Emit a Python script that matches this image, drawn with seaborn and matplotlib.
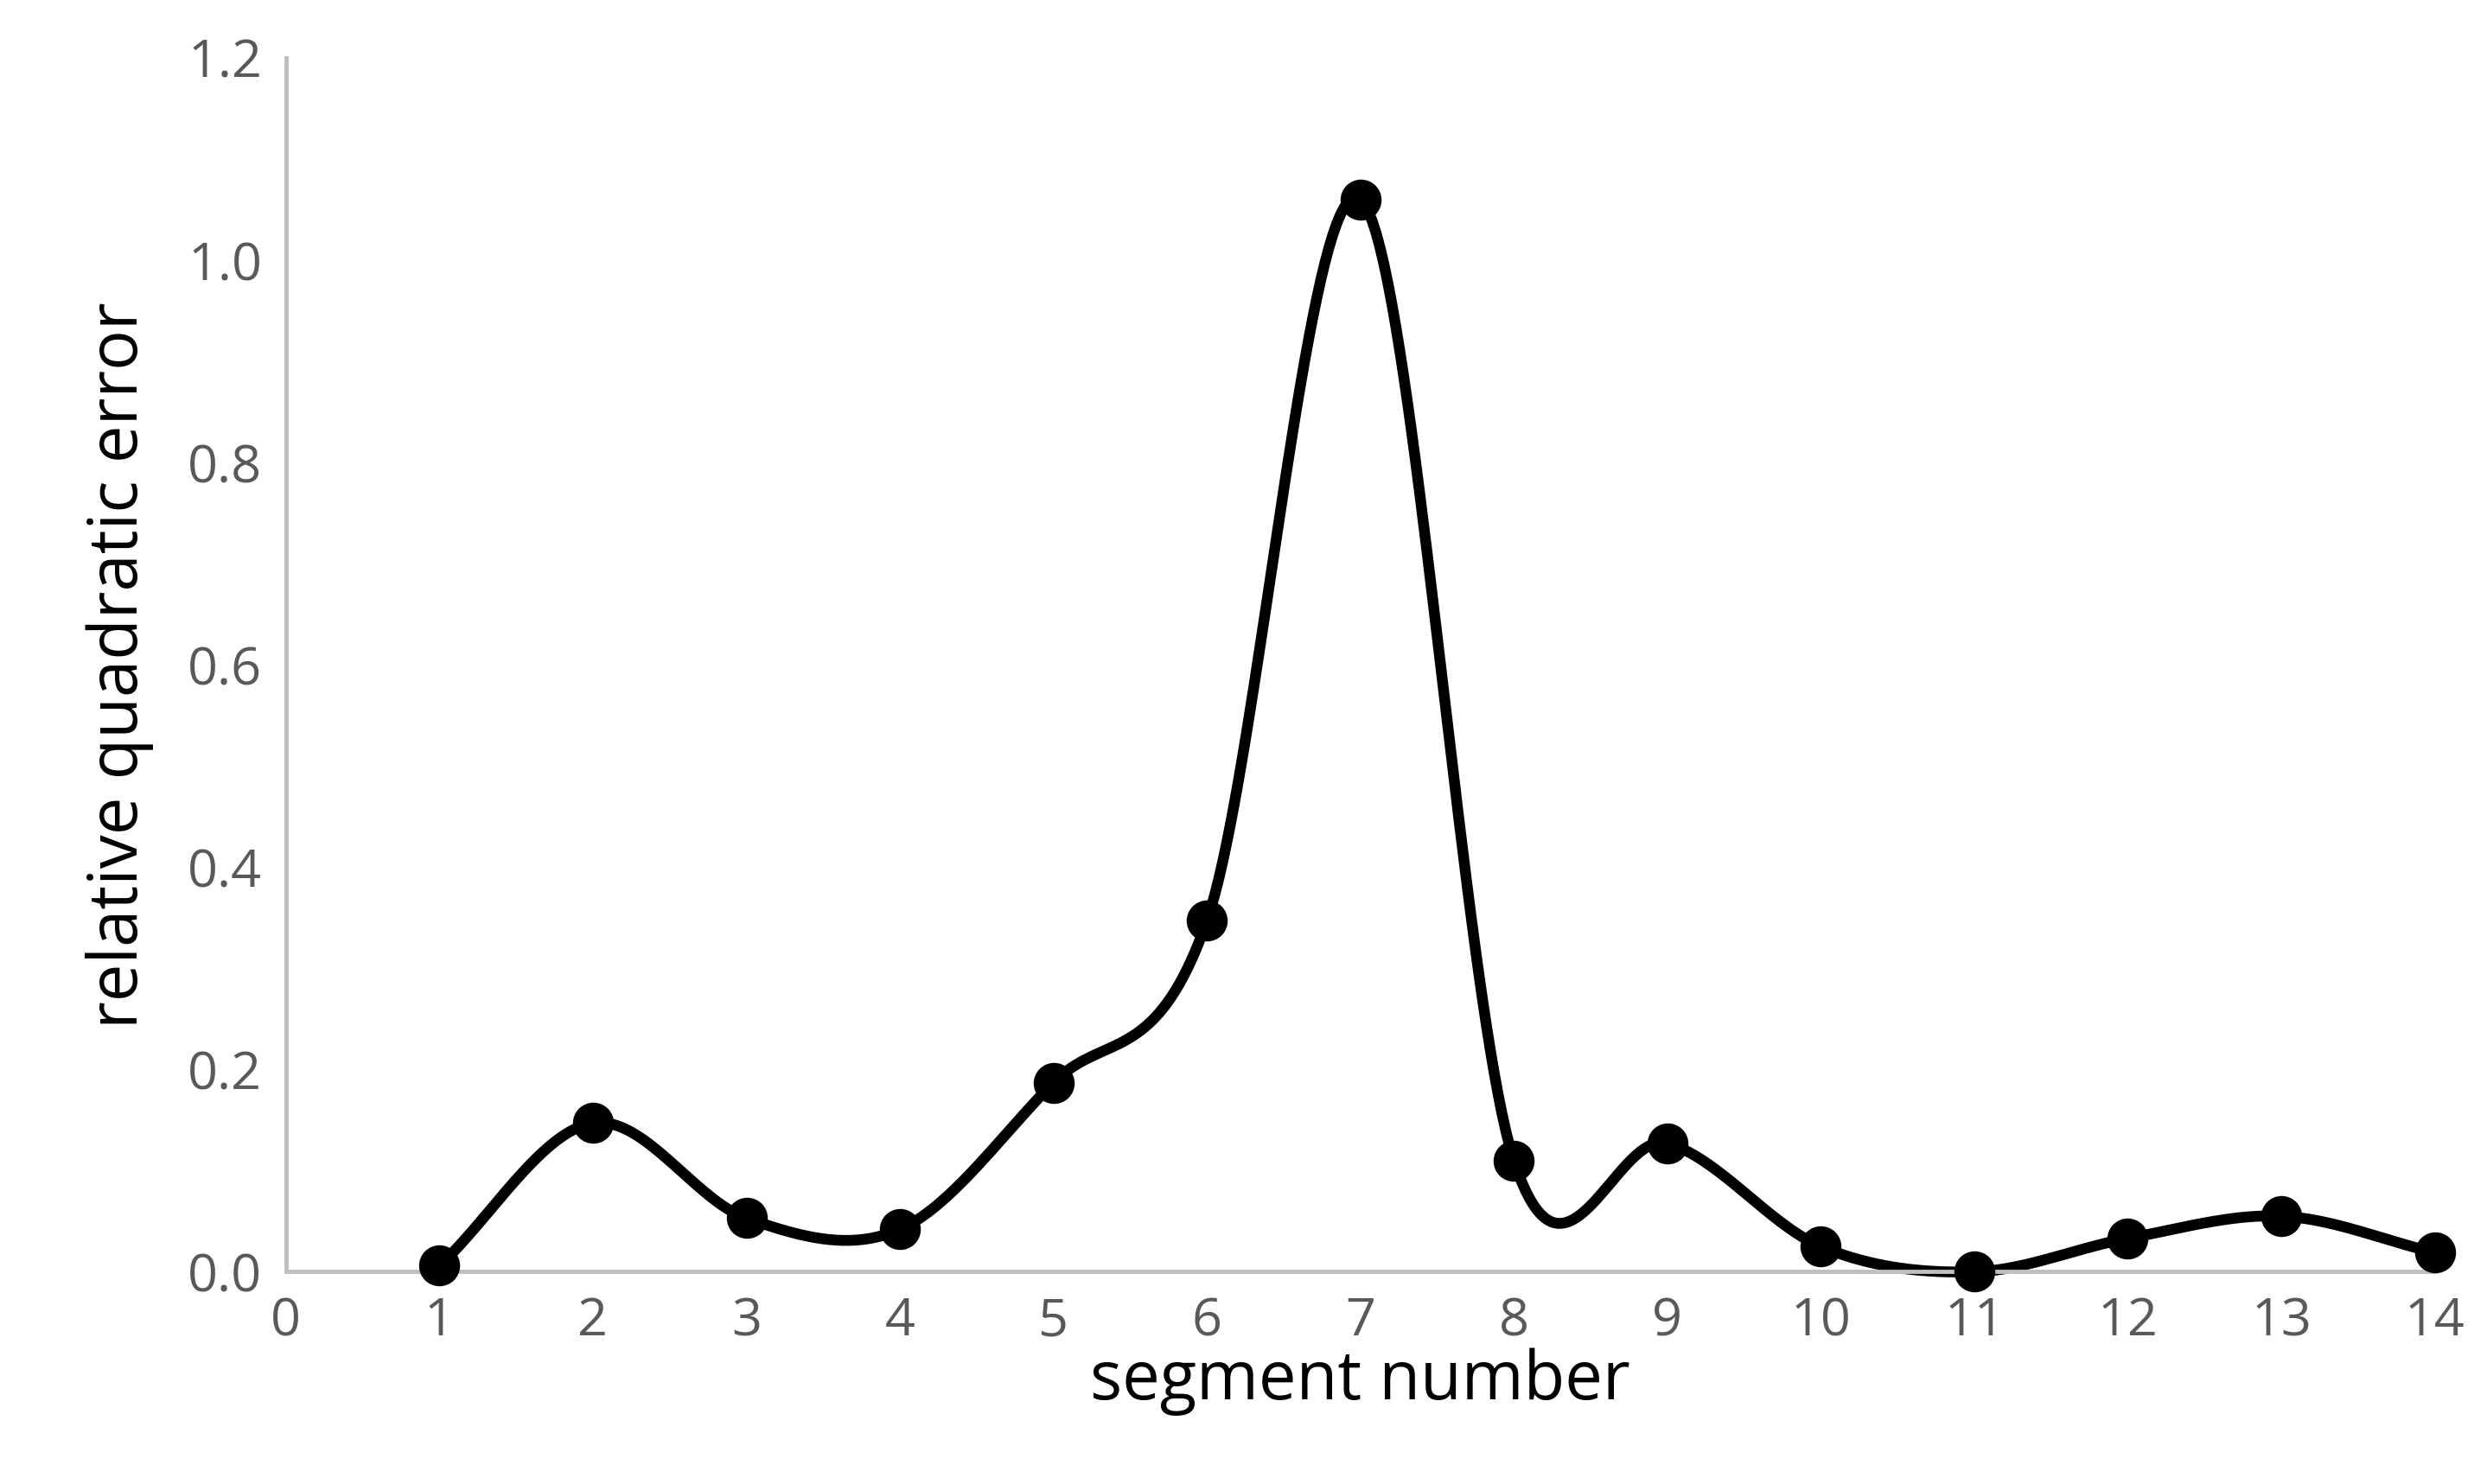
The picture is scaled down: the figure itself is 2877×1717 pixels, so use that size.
import numpy as np
import matplotlib
matplotlib.use("Agg")
import matplotlib.pyplot as plt
import seaborn as sns

# ── data ──────────────────────────────────────────────────────────────────────
segments = [1, 2, 3, 4, 5, 6, 7, 8, 9, 10, 11, 12, 13, 14]
errors   = [0.006, 0.147, 0.053, 0.042, 0.187, 0.347, 1.06,
            0.11, 0.127, 0.025, 0.0, 0.033, 0.055, 0.019]
x_ticks  = list(range(0, 15))
y_ticks  = [0.0, 0.2, 0.4, 0.6, 0.8, 1.0, 1.2]

GREY = "#595959"

def catmull_rom(xs, ys, n=40):
    """Excel-like smoothed line through the points."""
    px = np.r_[2*xs[0]-xs[1], xs, 2*xs[-1]-xs[-2]]
    py = np.r_[2*ys[0]-ys[1], ys, 2*ys[-1]-ys[-2]]
    ox, oy = [], []
    t = np.linspace(0, 1, n)
    for i in range(1, len(px) - 2):
        for arr, out in ((px, ox), (py, oy)):
            p0, p1, p2, p3 = arr[i-1:i+3]
            out.extend(0.5 * (2*p1 + (-p0 + p2)*t + (2*p0 - 5*p1 + 4*p2 - p3)*t**2
                              + (-p0 + 3*p1 - 3*p2 + p3)*t**3))
    return np.array(ox), np.array(oy)

sns.set_style("white")
plt.rcParams["font.family"] = ["Open Sans", "DejaVu Sans"]

fig = plt.figure(figsize=(28.77, 17.17), dpi=100)
ax = fig.add_axes([0.115, 0.143, 0.864, 0.818])

sx, sy = catmull_rom(np.array(segments, float), np.array(errors, float))
ax.plot(sx, sy, color="black", lw=9, solid_capstyle="round", zorder=2)
sns.scatterplot(x=segments, y=errors, ax=ax, color="black", s=1000,
                edgecolor="black", zorder=3, legend=False)

ax.set_xlim(0, 14)
ax.set_ylim(0, 1.2)
ax.set_xticks(x_ticks)
ax.set_yticks(y_ticks)
ax.set_yticklabels([f"{v:.1f}" for v in y_ticks])
ax.tick_params(labelsize=44, colors=GREY, length=0, pad=20)
ax.set_xlabel("segment number", fontsize=56, color="black", labelpad=0)
ax.set_ylabel("relative quadratic error", fontsize=56, color="black", labelpad=28)

for side in ["top", "right"]:
    ax.spines[side].set_visible(False)
for side in ["left", "bottom"]:
    ax.spines[side].set_color("#bfbfbf")
    ax.spines[side].set_linewidth(3.5)
for c in ax.collections + ax.lines:
    c.set_clip_on(False)

fig.savefig("out.png", dpi=100)
